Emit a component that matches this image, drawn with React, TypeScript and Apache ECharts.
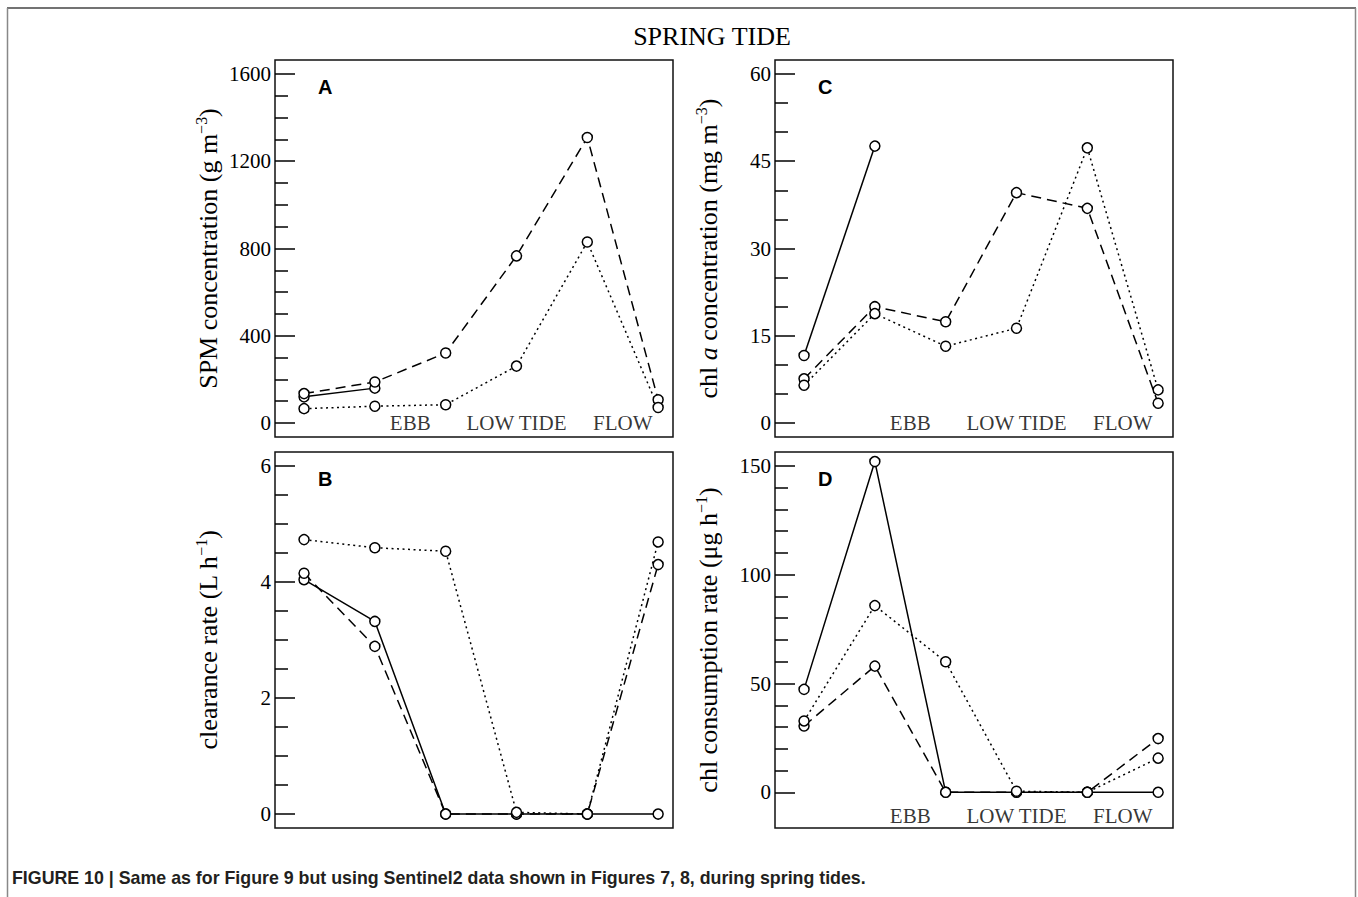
import { useEffect, useRef } from "react";
import * as echarts from "echarts";

// x positions of the six sampling times
const STATIONS = [1, 2, 3, 4, 5, 6];
const PHASES = ["EBB", "LOW TIDE", "FLOW"];
const PHASE_X = [2.5, 4, 5.5];

// Panel A: SPM concentration (g m-3)
const SPM_SOLID = [120, 160, null, null, null, null];
const SPM_DASHED = [135, 188, 321, 766, 1309, 107];
const SPM_DOTTED = [66, 77, 84, 261, 830, 71];
const SPM_TICKS = [0, 400, 800, 1200, 1600];
const SPM_MINOR = [100, 200, 300, 500, 600, 700, 900, 1000, 1100, 1300, 1400, 1500];

// Panel B: clearance rate (L h-1)
const CLR_SOLID = [4.04, 3.32, 0, 0, 0, 0];
const CLR_DASHED = [4.15, 2.89, 0, 0, 0, 4.3];
const CLR_DOTTED = [4.73, 4.59, 4.53, 0.03, 0, 4.69];
const CLR_TICKS = [0, 2, 4, 6];
const CLR_MINOR = [0.5, 1, 1.5, 2.5, 3, 3.5, 4.5, 5, 5.5];

// Panel C: chl a concentration (mg m-3)
const CHL_SOLID = [11.6, 47.6, null, null, null, null];
const CHL_DASHED = [7.6, 20.0, 17.4, 39.6, 36.9, 3.4];
const CHL_DOTTED = [6.5, 18.8, 13.2, 16.3, 47.3, 5.7];
const CHL_TICKS = [0, 15, 30, 45, 60];
const CHL_MINOR = [5, 10, 20, 25, 35, 40, 50, 55];

// Panel D: chl consumption rate (µg h-1)
const CON_SOLID = [47.3, 152, 0, 0, 0, 0];
const CON_DASHED = [30.5, 58.0, 0, 0, 0, 24.7];
const CON_DOTTED = [32.8, 85.8, 60.0, 0.5, 0, 15.7];
const CON_TICKS = [0, 50, 100, 150];
const CON_MINOR = [10, 20, 30, 40, 60, 70, 80, 90, 110, 120, 130, 140];

const SERIF = "Liberation Serif";
const SANS = "Liberation Sans";
const INK = "#000";

type Panel = {
  letter: string;
  grid: { left: number; top: number; width: number; height: number };
  yMin: number;
  yMax: number;
  ticks: number[];
  minor: number[];
  name: string;
  solid: (number | null)[];
  dashed: (number | null)[];
  dotted: (number | null)[];
  phaseY: number;
};

const PANELS: Panel[] = [
  {
    letter: "A",
    grid: { left: 275, top: 60, width: 398, height: 377 },
    yMin: -64,
    yMax: 1664,
    ticks: SPM_TICKS,
    minor: SPM_MINOR,
    name: "SPM concentration (g m{sup|−3})",
    solid: SPM_SOLID,
    dashed: SPM_DASHED,
    dotted: SPM_DOTTED,
    phaseY: 0,
  },
  {
    letter: "B",
    grid: { left: 275, top: 452, width: 398, height: 376 },
    yMin: -0.24,
    yMax: 6.24,
    ticks: CLR_TICKS,
    minor: CLR_MINOR,
    name: "clearance rate (L h{sup|−1})",
    solid: CLR_SOLID,
    dashed: CLR_DASHED,
    dotted: CLR_DOTTED,
    phaseY: -0.38,
  },
  {
    letter: "C",
    grid: { left: 775, top: 60, width: 398, height: 377 },
    yMin: -2.4,
    yMax: 62.4,
    ticks: CHL_TICKS,
    minor: CHL_MINOR,
    name: "chl {it|a} concentration (mg m{sup|−3})",
    solid: CHL_SOLID,
    dashed: CHL_DASHED,
    dotted: CHL_DOTTED,
    phaseY: 0,
  },
  {
    letter: "D",
    grid: { left: 775, top: 452, width: 398, height: 376 },
    yMin: -16.4,
    yMax: 156.4,
    ticks: CON_TICKS,
    minor: CON_MINOR,
    name: "chl consumption rate (μg h{sup|−1})",
    solid: CON_SOLID,
    dashed: CON_DASHED,
    dotted: CON_DOTTED,
    phaseY: -10.7,
  },
];

function buildOption() {
  const grid: any[] = [];
  const xAxis: any[] = [];
  const yAxis: any[] = [];
  const series: any[] = [];
  const graphic: any[] = [];

  PANELS.forEach((p, i) => {
    grid.push({
      ...p.grid,
      show: true,
      borderColor: "#111",
      borderWidth: 1.5,
      backgroundColor: "transparent",
      containLabel: false,
    });
    xAxis.push({
      type: "value",
      gridIndex: i,
      min: 0.59,
      max: 6.21,
      show: true,
      axisLine: { show: false },
      axisTick: { show: false },
      axisLabel: { show: false },
      splitLine: { show: false },
    });
    // major axis with labels
    yAxis.push({
      type: "value",
      gridIndex: i,
      position: "left",
      min: p.yMin,
      max: p.yMax,
      axisLine: { show: false },
      splitLine: { show: false },
      axisTick: {
        show: true,
        inside: true,
        length: 20,
        customValues: p.ticks,
        lineStyle: { color: INK, width: 1.5 },
      },
      axisLabel: {
        show: true,
        customValues: p.ticks,
        formatter: (v: number) => String(v),
        margin: 4,
        fontFamily: SERIF,
        fontSize: 21,
        color: INK,
      },
      name: p.name,
      nameLocation: "middle",
      nameRotate: 90,
      nameGap: 52,
      nameTextStyle: {
        fontFamily: SERIF,
        fontSize: 26,
        color: INK,
        lineHeight: 30,
        rich: {
          sup: {
            fontFamily: SERIF,
            fontSize: 16,
            lineHeight: 18,
            verticalAlign: "top",
            color: INK,
          },
          it: {
            fontFamily: SERIF,
            fontSize: 26,
            fontStyle: "italic",
            color: INK,
          },
        },
      },
    });
    // minor tick axis
    yAxis.push({
      type: "value",
      gridIndex: i,
      position: "left",
      min: p.yMin,
      max: p.yMax,
      axisLine: { show: false },
      splitLine: { show: false },
      axisLabel: { show: false },
      axisTick: {
        show: true,
        inside: true,
        length: 13,
        customValues: p.minor,
        lineStyle: { color: INK, width: 1.5 },
      },
    });

    const styles: [string, (number | null)[], any][] = [
      ["solid", p.solid, "solid"],
      ["dashed", p.dashed, [10, 6]],
      ["dotted", p.dotted, [2, 3.5]],
    ];
    styles.forEach(([nm, vals, type]) => {
      series.push({
        type: "line",
        name: `${p.letter}-${nm}`,
        xAxisIndex: i,
        yAxisIndex: i * 2,
        data: STATIONS.map((x, k) => [x, vals[k]]),
        connectNulls: false,
        symbol: "circle",
        symbolSize: 10,
        showSymbol: true,
        silent: true,
        lineStyle: { color: INK, width: 1.5, type },
        itemStyle: { color: "#fff", borderColor: INK, borderWidth: 1.5 },
        emphasis: { disabled: true },
        z: 3,
      });
    });
    series.push({
      type: "scatter",
      xAxisIndex: i,
      yAxisIndex: i * 2,
      silent: true,
      symbolSize: 0,
      data: PHASES.map((ph, k) => ({ value: [PHASE_X[k], p.phaseY], name: ph })),
      label: {
        show: true,
        position: "inside",
        formatter: (d: any) => d.name,
        fontFamily: SERIF,
        fontSize: 21,
        color: INK,
      },
      z: 2,
    });

    graphic.push({
      type: "text",
      left: p.grid.left + 43,
      top: p.grid.top + 17,
      style: {
        text: p.letter,
        font: `bold 20px "${SANS}"`,
        fill: INK,
      },
    });
  });

  graphic.push(
    {
      type: "line",
      shape: { x1: 7, y1: 8, x2: 1356, y2: 8 },
      style: { stroke: "#444", lineWidth: 1.5 },
    },
    {
      type: "line",
      shape: { x1: 7.5, y1: 8, x2: 7.5, y2: 897 },
      style: { stroke: "#888", lineWidth: 1.5 },
    },
    {
      type: "line",
      shape: { x1: 1355.5, y1: 8, x2: 1355.5, y2: 897 },
      style: { stroke: "#888", lineWidth: 1.5 },
    },
    {
      type: "text",
      x: 712,
      y: 36,
      style: {
        text: "SPRING TIDE",
        font: `26px "${SERIF}"`,
        fill: INK,
        textAlign: "center",
        textVerticalAlign: "middle",
      },
    },
    {
      type: "text",
      x: 12,
      y: 878,
      style: {
        text: "FIGURE 10 | Same as for Figure 9 but using Sentinel2 data shown in Figures 7, 8, during spring tides.",
        font: `bold 17.8px "${SANS}"`,
        fill: "#231f20",
        textAlign: "left",
        textVerticalAlign: "middle",
      },
    }
  );

  return {
    animation: false,
    backgroundColor: "#fff",
    grid,
    xAxis,
    yAxis,
    series,
    graphic,
  };
}

export default function App() {
  const ref = useRef<HTMLDivElement>(null);
  useEffect(() => {
    if (!ref.current) return;
    const chart = echarts.init(ref.current, undefined, { renderer: "svg" });
    chart.setOption(buildOption() as any);
    return () => chart.dispose();
  }, []);
  return (
    <div
      ref={ref}
      style={{ position: "fixed", left: 0, top: 0, width: 1358, height: 897, background: "#fff" }}
    />
  );
}
